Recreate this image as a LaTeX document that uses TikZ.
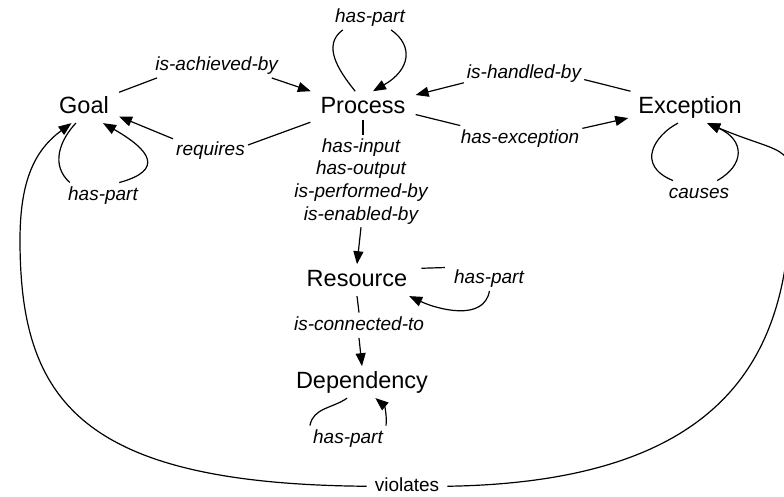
\documentclass[tikz,border=0pt]{standalone}
\usepackage{fontspec}
\setmainfont{Liberation Sans}
\usetikzlibrary{arrows.meta}
\begin{document}
\begin{tikzpicture}[x=1pt,y=-1pt,
  main/.style={font=\fontsize{23.5}{28}\selectfont, text height=17.6pt, text depth=5.9pt, inner xsep=10pt, inner ysep=4pt, anchor=base},
  lab/.style={font=\fontsize{19}{22.8}\selectfont\itshape, text height=14.25pt, text depth=4.75pt, inner sep=3pt, anchor=base},
  multi/.style={font=\fontsize{19}{22.6}\selectfont\itshape, align=center, inner sep=3pt},
  viol/.style={font=\fontsize{19}{22.8}\selectfont, text height=14.25pt, text depth=4.75pt, inner xsep=8pt, inner ysep=3pt, anchor=base},
  ln/.style={line width=1.2pt},
  ar/.style={line width=1.2pt, -{Triangle[length=13pt,width=10pt]}}]
\useasboundingbox (0,0) rectangle (784,496);

% concepts
\node[main] (goal) at (84,113) {Goal};
\node[main] (process) at (363,113) {Process};
\node[main] (exception) at (690,113) {Exception};
\node[main] (resource) at (357,286) {Resource};
\node[main] (dependency) at (362,388) {Dependency};

% relation labels
\node[lab] (hp1) at (370,22) {has-part};
\node[lab] (ach) at (216.7,70) {is-achieved-by};
\node[lab] (req) at (210.5,155) {requires};
\node[lab] (hp2) at (103,200) {has-part};
\node[multi] (io) at (361,181.3) {has-input\\has-output\\is-performed-by\\is-enabled-by};
\node[lab] (handled) at (524,78) {is-handled-by};
\node[lab] (hasexc) at (520,143) {has-exception};
\node[lab] (causes) at (699,198) {causes};
\node[lab] (hp3) at (489,283) {has-part};
\node[lab] (conn) at (359,330) {is-connected-to};
\node[lab] (hp4) at (348,443) {has-part};
\node[viol] (viol) at (407,491) {violates};

% straight relations
\draw[ln] (goal.23) -- (ach.192);
\draw[ar] (ach.-13) -- (process.163);
\draw[ln] (process.196) -- (req.8);
\draw[ar] (req.163) -- (goal.-15);
\draw[ln] (exception.165) -- (handled.-6);
\draw[ar] (handled.189) -- (process.13);
\draw[ln] (process.-8) -- (hasexc.168);
\draw[ar] (hasexc.9) -- (exception.190);
\draw[ln] ([yshift=3pt]process.south) -- (process.south |- io.north);
\draw[ar] (io.south) -- (resource.north);
\draw[ln] (resource.south) -- (conn.north);
\draw[ar] (conn.south) -- (dependency.north);

% has-part / causes loops
\draw[ln] (process.116) .. controls (338,70) and (322,45) .. (hp1.205);
\draw[ar] (hp1.-31) .. controls (414,46) and (410,70) .. (process.58);
\draw[ln] (goal.243) .. controls (60,140) and (50,165) .. (hp2.159);
\draw[ar] (hp2.38) .. controls (165,170) and (150,150) .. (goal.-40);
\draw[ln] (exception.233) .. controls (655,135) and (635,165) .. (causes.154);
\draw[ar] (causes.35) .. controls (745,165) and (745,140) .. (exception.-43);
\draw[ln, shorten <=4pt, shorten >=6pt] (resource.11) -- (hp3.164);
\draw[ar] (hp3.-88) to[out=-100,in=-25,looseness=1] (resource.-17);
\draw[ln] (dependency.227) to[out=215,in=80] (hp4.north west);
\draw[ar] (hp4.north east) to[out=85,in=-40] (dependency.-50);

% violates
\coordinate (vl) at (20,240);
\coordinate (vr) at (790,215);
\draw[ar] (viol.west) .. controls (80,484) and (20,400) .. (vl)
  .. controls (20,180) and (35,150) .. (goal.232);
\draw[ar] (viol.east) .. controls (720,482) and (785,360) .. (vr)
  .. controls (796,140) and (790,158) .. (exception.-43);
\end{tikzpicture}
\end{document}
